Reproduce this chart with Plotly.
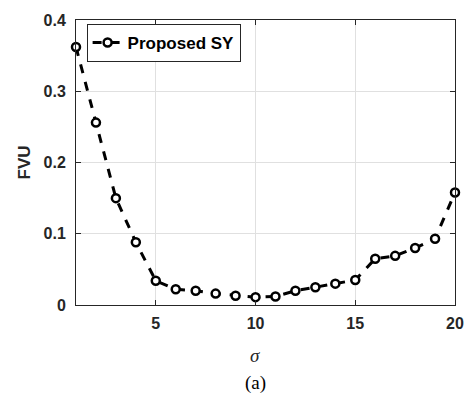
import plotly.graph_objects as go

sigma = list(range(1, 21))
fvu = [0.362, 0.256, 0.150, 0.088, 0.034, 0.022, 0.020, 0.016, 0.013, 0.011,
       0.012, 0.020, 0.025, 0.030, 0.035, 0.065, 0.069, 0.080, 0.093, 0.158]
series_name = "Proposed SY"
x_ticks = [5, 10, 15, 20]
y_ticks = [0, 0.1, 0.2, 0.3, 0.4]
y_tick_text = ["0", "0.1", "0.2", "0.3", "0.4"]

fig = go.Figure()
fig.add_trace(go.Scatter(
    x=sigma, y=fvu, mode="lines+markers", name=f"<b>{series_name}</b>",
    line=dict(color="black", width=3, dash="dash"),
    marker=dict(symbol="circle", size=8, color="white",
                line=dict(color="black", width=2.5)),
    cliponaxis=False,
))

axis_common = dict(
    showline=True, linecolor="#262626", linewidth=1, mirror="ticks",
    ticks="inside", ticklen=5, tickcolor="#262626",
    showgrid=True, gridcolor="#e0e0e0", gridwidth=1, zeroline=False,
    tickfont=dict(family="Liberation Sans, Arial", size=16, color="#262626"),
)
fig.update_xaxes(range=[1, 20], tickvals=x_ticks, ticktext=[f"<b>{t}</b>" for t in x_ticks],
                 ticklabelstandoff=4, **axis_common)
fig.update_yaxes(range=[0, 0.4], tickvals=y_ticks, ticktext=[f"<b>{t}</b>" for t in y_tick_text],
                 ticklabelstandoff=6,
                 title=dict(text="<b>FVU</b>", font=dict(family="Liberation Sans, Arial", size=17, color="#262626"), standoff=8),
                 **axis_common)

plot_h = 396 - 16 - 91
x_mid = (259 - 76) / 387
fig.update_layout(
    width=476, height=396,
    margin=dict(l=76, r=13, t=16, b=91),
    plot_bgcolor="white", paper_bgcolor="white",
    showlegend=True,
    legend=dict(x=0.028, y=(305 - 20) / plot_h, xanchor="left", yanchor="top",
                bordercolor="#262626", borderwidth=1, bgcolor="white",
                font=dict(family="Liberation Sans, Arial", size=17, color="black"),
                itemwidth=30, tracegroupgap=0),
    annotations=[
        dict(text="<i>σ</i>", x=x_mid, y=(305 - 356) / plot_h, xref="paper", yref="paper",
             showarrow=False, yanchor="middle",
             font=dict(family="Liberation Serif, Times New Roman", size=19, color="#262626")),
        dict(text="(a)", x=x_mid, y=(305 - 384) / plot_h, xref="paper", yref="paper",
             showarrow=False, yanchor="middle",
             font=dict(family="Liberation Serif, Times New Roman", size=19, color="black")),
    ],
)

fig.write_html("out.html", config={"displayModeBar": False},
               post_script="document.body.style.margin='0';document.body.style.overflow='hidden';")
